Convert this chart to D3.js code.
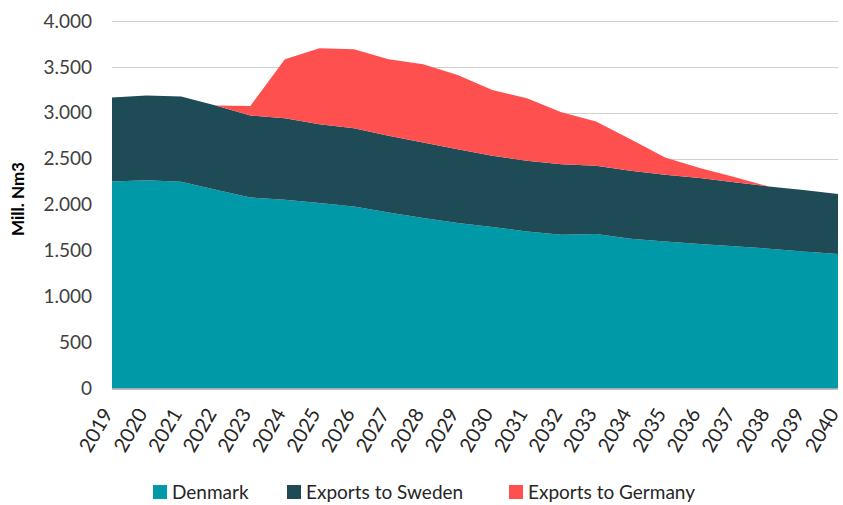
<!DOCTYPE html>
<html>
<head>
<meta charset="utf-8">
<script src="https://cdn.jsdelivr.net/npm/d3@7"></script>
<style>
  html, body { margin: 0; padding: 0; background: #fff; }
  svg { display: block; font-family: Lato, "Open Sans", sans-serif; }
</style>
</head>
<body>
<svg id="chart" width="843" height="505"></svg>
<script>
// Gas volumes, mill. Nm3
const years = [2019, 2020, 2021, 2022, 2023, 2024, 2025, 2026, 2027, 2028, 2029,
               2030, 2031, 2032, 2033, 2034, 2035, 2036, 2037, 2038, 2039, 2040];
const denmark = [2253, 2268, 2250, 2163, 2080, 2054, 2018, 1982, 1917, 1855, 1801,
                 1757, 1710, 1674, 1681, 1630, 1601, 1572, 1547, 1522, 1492, 1464];
const exportsSweden = [913, 920, 927, 917, 891, 888, 859, 852, 833, 823, 804,
                       776, 768, 768, 743, 740, 725, 718, 699, 677, 668, 652];
const exportsGermany = [0, 0, 0, 0, 105, 641, 826, 858, 833, 851, 808,
                        717, 682, 566, 482, 343, 188, 109, 55, 0, 0, 0];
const seriesNames = ["Denmark", "Exports to Sweden", "Exports to Germany"];
const seriesColors = ["#0099A8", "#1F4B57", "#FF5050"];
const yTicks = [0, 500, 1000, 1500, 2000, 2500, 3000, 3500, 4000];

const svg = d3.select("#chart");
const x = d3.scaleLinear().domain([2019, 2040]).range([112, 838]);
const y = d3.scaleLinear().domain([0, 4000]).range([388.5, 21]);

const rows = years.map((yr, i) => ({
  year: yr,
  "Denmark": denmark[i],
  "Exports to Sweden": exportsSweden[i],
  "Exports to Germany": exportsGermany[i]
}));
const stacked = d3.stack().keys(seriesNames)(rows);

// horizontal gridlines
svg.append("g")
  .selectAll("line")
  .data(yTicks.filter(t => t > 0))
  .join("line")
  .attr("x1", x(2019)).attr("x2", x(2040))
  .attr("y1", d => Math.round(y(d)) + 0.5).attr("y2", d => Math.round(y(d)) + 0.5)
  .attr("stroke", "#D0D0D0").attr("stroke-width", 1.2);

// stacked areas
const area = d3.area()
  .x(d => x(d.data.year))
  .y0(d => y(d[0]))
  .y1(d => y(d[1]));
svg.append("g")
  .selectAll("path")
  .data(stacked)
  .join("path")
  .attr("d", area)
  .attr("fill", (d, i) => seriesColors[i]);

// y axis labels
const yAxis = d3.axisLeft(y).tickValues(yTicks)
  .tickFormat(d => d3.format(",")(d).replace(/,/g, "."))
  .tickSize(0).tickPadding(20);
const gy = svg.append("g").attr("transform", `translate(${x(2019)},0)`).call(yAxis);
gy.select(".domain").remove();
gy.selectAll("text")
  .attr("font-family", "Lato, sans-serif")
  .attr("font-size", 19)
  .attr("fill", "#404040");

// x axis line
svg.append("line")
  .attr("x1", x(2019)).attr("x2", x(2040))
  .attr("y1", 389).attr("y2", 389)
  .attr("stroke", "#A6A6A6").attr("stroke-width", 1.5);

// x axis labels, rotated
const xAxis = d3.axisBottom(x).tickValues(years).tickFormat(d3.format("d"))
  .tickSize(0).tickPadding(0);
const gx = svg.append("g").attr("transform", "translate(0,389)").call(xAxis);
gx.select(".domain").remove();
gx.selectAll("text")
  .attr("font-family", "Lato, sans-serif")
  .attr("font-size", 20)
  .attr("fill", "#262626")
  .attr("text-anchor", "end")
  .attr("dy", "0.35em")
  .attr("transform", "translate(-5,21) rotate(-60)")
  .attr("y", 0).attr("x", 0);

// y axis title
svg.append("text")
  .attr("transform", "translate(24,199) rotate(-90)")
  .attr("text-anchor", "middle")
  .attr("font-family", "Lato, sans-serif")
  .attr("font-weight", "bold")
  .attr("font-size", 17)
  .attr("fill", "#000")
  .text("Mill. Nm3");

// legend
const legendX = [153, 287, 509];
const legend = svg.append("g")
  .selectAll("g")
  .data(seriesNames)
  .join("g")
  .attr("transform", (d, i) => `translate(${legendX[i]},492)`);
legend.append("rect")
  .attr("x", 0).attr("y", -7).attr("width", 14).attr("height", 14)
  .attr("fill", (d, i) => seriesColors[i]);
legend.append("text")
  .attr("x", 19).attr("y", 0).attr("dy", "0.35em")
  .attr("font-family", "Lato, sans-serif")
  .attr("font-size", 19)
  .attr("fill", "#262626")
  .text(d => d);
</script>
</body>
</html>
